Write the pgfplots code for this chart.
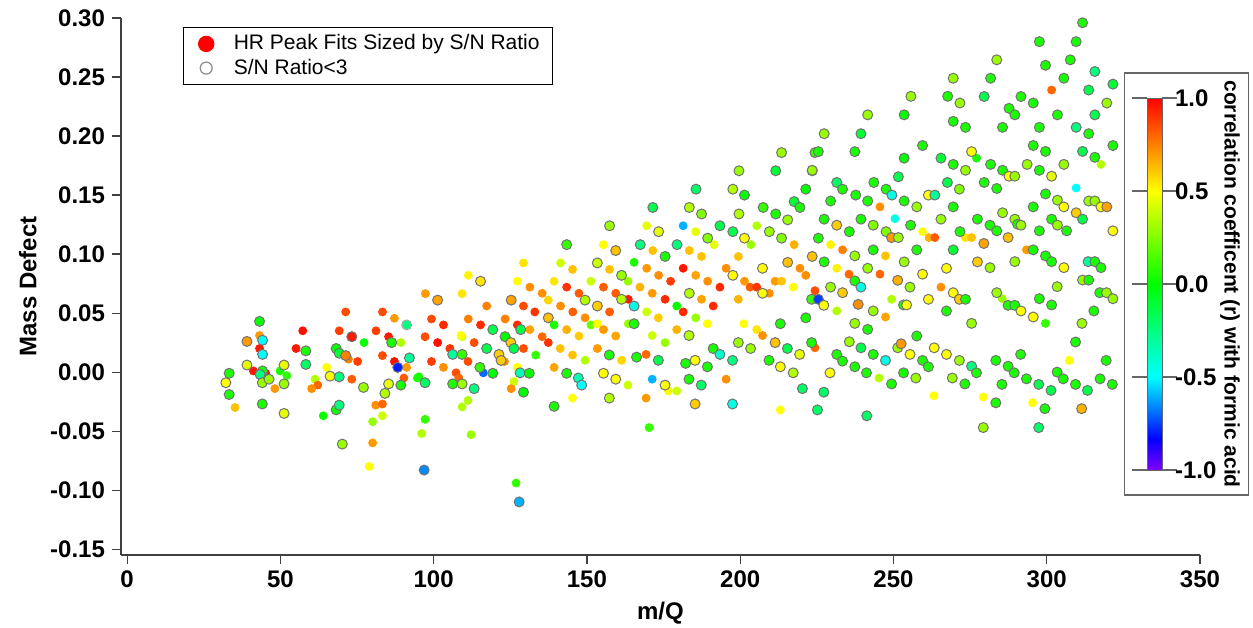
\documentclass[border=0pt]{standalone}
\usepackage{fontspec}
\setmainfont{Liberation Sans}
\usepackage{pgfplots}
\pgfplotsset{compat=1.18}
\pgfkeys{/pgf/number format/assume math mode=true}

\begin{document}
\begin{tikzpicture}
\begin{axis}[
  name=main,
  scale only axis, width=539.5pt, height=268.5pt,
  xmin=-2, xmax=350, ymin=-0.155, ymax=0.30,
  clip=false,
  axis x line*=bottom, axis y line*=left,
  axis line style={black!75, line width=0.6pt},
  xtick={0,50,100,150,200,250,300,350},
  ytick={-0.15,-0.10,-0.05,0,0.05,0.10,0.15,0.20,0.25,0.30},
  yticklabel style={/pgf/number format/.cd, fixed, fixed zerofill, precision=2},
  tick align=outside, major tick length=4.5pt,
  tick style={black!75, line width=0.6pt},
  tick label style={font=\fontsize{12}{14}\selectfont\bfseries},
  label style={font=\fontsize{12}{14}\selectfont\bfseries},
  xlabel={m/Q}, ylabel={Mass Defect},
  colormap={igor}{rgb255(0cm)=(128,0,255); rgb255(1cm)=(0,0,255); rgb255(3cm)=(0,255,255); rgb255(6cm)=(0,255,0); rgb255(9cm)=(255,255,0); rgb255(12cm)=(255,0,0)},
  point meta min=-1, point meta max=1,
  colorbar,
  colorbar style={
    at={(parent axis.south west)}, anchor=south west,
    xshift=504.5pt, yshift=42.5pt,
    scale only axis, width=7.5pt, height=186pt,
    ytick={-1,-0.5,0,0.5,1},
    yticklabel style={font=\fontsize{12}{14}\selectfont\bfseries, xshift=-4.5pt,
      /pgf/number format/.cd, fixed, fixed zerofill, precision=1},
    tick align=outside, major tick length=7.5pt,
    tick style={black!60, line width=0.6pt},
    axis line style={black!60, line width=0.5pt},
  },
  legend style={at={(0.0575,0.983)}, anchor=north west, draw=black,
    line width=0.6pt, font=\fontsize{10.5}{12}\selectfont,
    inner xsep=5pt, inner ysep=2pt, nodes={inner sep=1.5pt}},
  legend cell align=left,
  legend image code/.code={\path (0pt,0pt) (18pt,0pt); \draw[#1] plot coordinates {(6pt,0pt)};},
]

% peaks with S/N >= 3, marker radius (pt) follows S/N
\addplot[scatter, only marks, mark=*, forget plot,
  point meta=\thisrow{r},
  visualization depends on={\thisrow{s} \as \ms},
  scatter/@pre marker code/.append style={/tikz/mark size=\ms},
  scatter/use mapped color={draw=mapped color, fill=mapped color}]
table {
x y r s
71.3 0.051 0.85 2.3
83.3 0.051 0.85 2.3
87.2 0.0456 0.7 2.3
57.3 0.035 0.97 3.75
69.2 0.035 0.88 2.3
81.2 0.035 0.88 2.3
43.2 0.031 0.7 2.3
85.3 0.030 0.95 2.4
77.3 0.025 0.02 5.5
89.3 0.025 0.35 2.3
43.2 0.020 0.95 3.0
55.1 0.020 0.95 3.0
72.2 0.011 0.75 4.5
75.2 0.009 0.88 2.8
83.3 0.014 0.85 2.3
87.2 0.009 0.97 3.75
91.2 0.004 0.7 3.0
41.2 0.001 0.95 2.4
45.2 -0.001 0.97 3.0
49.9 0.001 0.05 3.75
52.1 -0.003 0.1 2.8
65.1 0.004 0.5 2.4
61.3 -0.006 0.35 2.3
62.2 -0.011 0.8 2.8
60.2 -0.014 0.72 2.3
73.3 -0.006 0.82 2.4
48.2 -0.014 0.7 2.3
90.3 -0.005 0.82 2.4
94.7 -0.005 0.05 2.4
35.2 -0.030 0.62 2.3
64.0 -0.037 0.02 2.3
81.1 -0.028 0.72 3.3
83.3 -0.027 0.8 2.4
83.3 -0.037 0.4 2.4
80.1 -0.042 0.3 2.4
80.1 -0.060 0.7 2.1
79.0 -0.080 0.5 2.1
96.1 -0.052 0.35 2.3
97.2 -0.040 0.1 2.3
112.2 -0.053 0.3 2.8
126.9 -0.094 0.1 2.8
91.2 0.040 -0.25 0.6
155.4 0.108 0.5 2.4
129.3 0.0925 0.55 2.4
141.4 0.0925 0.4 2.4
145.3 0.087 0.62 2.4
157.4 0.087 0.62 2.4
111.3 0.082 0.52 2.3
127.3 0.077 0.5 2.4
139.3 0.077 0.55 2.4
151.3 0.077 0.4 2.8
131.4 0.072 0.72 2.4
143.4 0.072 0.9 2.4
155.4 0.072 0.82 2.4
97.3 0.0665 0.7 2.3
109.3 0.0665 0.55 2.3
135.4 0.0668 0.72 2.8
147.4 0.0668 0.82 2.4
159.4 0.0668 0.82 2.4
137.4 0.061 0.58 2.4
117.3 0.056 0.75 2.4
129.3 0.056 0.85 2.4
141.4 0.056 0.72 2.4
99.3 0.045 0.85 3.2
103.2 0.040 0.92 2.5
111.3 0.045 0.75 2.4
123.3 0.045 0.75 2.4
133.0 0.051 0.9 2.4
145.4 0.051 0.82 2.4
157.4 0.051 0.82 2.4
149.4 0.046 0.72 2.4
139.3 0.040 0.05 2.6
151.3 0.040 0.2 2.4
153.4 0.041 0.5 2.4
115.3 0.040 0.92 2.4
127.3 0.040 0.92 2.4
131.4 0.036 0.68 2.4
143.4 0.036 0.65 2.4
155.4 0.036 0.7 2.4
147.4 0.0306 0.6 3.3
159.4 0.0306 0.68 2.4
97.2 0.030 0.85 2.4
101.3 0.025 0.97 3.75
109.3 0.030 0.4 2.4
108.9 0.031 0.5 2.3
113.2 0.025 0.85 2.4
129.3 0.020 0.85 2.8
135.4 0.030 0.8 2.4
137.4 0.025 0.9 2.4
141.3 0.020 0.62 2.4
145.3 0.0145 0.62 2.6
153.4 0.020 0.7 2.6
105.3 0.020 0.9 2.4
99.3 0.009 0.88 2.4
103.2 0.004 0.72 2.4
111.2 0.009 0.85 2.4
123.1 0.009 0.72 2.4
133.3 0.0144 0.1 2.4
116.2 -0.0006 -0.7 2.3
127.3 0.004 0.5 2.4
139.3 0.004 0.68 2.4
149.4 0.010 0.35 2.4
145.3 -0.022 0.5 2.4
95.2 -0.004 0.05 2.6
107.3 -0.0006 0.85 2.4
108.2 -0.005 0.8 3.3
126.2 -0.008 0.4 2.4
125.3 -0.014 0.72 2.4
111.2 -0.024 0.35 2.6
109.3 -0.0295 0.35 2.4
169.5 0.124 0.45 2.4
181.4 0.124 -0.6 2.4
185.5 0.119 0.45 2.4
205.4 0.124 0.35 2.4
191.5 0.108 0.45 2.4
203.5 0.108 0.3 2.4
171.5 0.103 0.62 2.4
183.4 0.103 0.62 2.4
187.4 0.098 0.62 2.4
199.4 0.098 0.62 2.4
217.6 0.108 0.65 2.4
219.5 0.088 0.72 2.4
221.4 0.082 0.72 2.4
165.4 0.093 0.05 2.4
169.5 0.088 0.7 2.4
181.4 0.088 0.95 3.3
195.4 0.088 0.72 2.8
163.4 0.077 0.3 3.2
173.4 0.082 0.72 2.4
177.3 0.077 0.88 3.3
185.5 0.082 0.68 2.4
189.4 0.077 0.72 2.4
201.4 0.077 0.7 2.4
211.4 0.077 0.7 2.4
213.5 0.077 0.62 2.4
167.3 0.072 0.65 2.4
171.3 0.0668 0.7 2.4
175.5 0.0617 0.92 2.4
187.4 0.0617 0.68 2.4
193.4 0.072 0.92 2.4
199.4 0.0617 0.65 2.4
203.2 0.072 0.82 2.4
205.4 0.072 0.9 2.6
209.5 0.0668 0.72 2.4
217.3 0.072 0.5 2.4
224.4 0.069 0.85 2.4
163.5 0.0617 0.95 3.0
179.3 0.056 0.0 2.5
181.4 0.051 0.92 3.0
191.2 0.056 0.92 2.4
169.5 0.051 0.4 2.4
173.3 0.046 0.6 2.4
185.5 0.046 0.3 2.4
189.3 0.041 0.5 2.4
163.5 0.041 0.3 4.5
171.3 0.031 0.4 2.4
179.3 0.036 0.65 2.6
175.5 0.025 0.3 2.4
201.2 0.041 0.5 2.4
205.4 0.036 0.55 2.4
207.3 0.031 0.72 2.4
224.4 0.0206 0.8 2.4
169.3 0.015 0.8 2.4
161.3 0.010 0.58 2.4
171.3 -0.006 -0.6 2.4
176.6 -0.016 0.5 2.6
179.3 -0.016 0.4 2.4
195.4 -0.006 0.72 2.4
163.4 -0.011 0.4 2.4
169.3 -0.022 0.7 2.4
213.1 -0.032 0.5 2.4
170.3 -0.047 0.1 3.2
245.6 0.140 0.72 2.4
250.5 0.130 -0.45 2.4
259.5 0.119 0.5 2.4
261.6 0.114 0.65 2.4
263.5 0.114 0.82 2.4
273.5 0.114 0.55 2.4
275.5 0.114 0.62 2.4
277.1 0.1813 0.05 2.4
229.5 0.108 0.52 2.4
233.4 0.1036 0.75 2.4
247.4 0.0985 0.62 2.4
231.5 0.088 0.52 2.4
235.5 0.083 0.8 2.4
245.6 0.083 0.8 2.4
265.5 0.072 0.72 2.4
249.4 0.0617 0.35 2.8
231.5 0.0518 0.35 2.4
247.4 0.0467 0.68 2.4
245.3 -0.005 0.35 2.4
263.2 -0.020 0.5 2.6
301.6 0.239 0.8 2.4
309.6 0.156 -0.5 2.4
317.7 0.176 0.35 2.5
285.5 0.0622 0.3 2.4
299.6 0.0413 0.1 2.4
293.4 0.1036 0.7 2.4
307.4 0.0099 0.5 2.4
279.3 -0.021 0.5 2.4
295.4 -0.026 0.5 2.4
};

% peaks with S/N < 3, outlined
\addplot[scatter, only marks, mark=*, mark size=2.5pt, forget plot,
  point meta=\thisrow{r},
  scatter/use mapped color={draw=black!55, fill=mapped color},
  mark options={line width=0.5pt}]
table {
x y r
43.2 0.043 0.02
44.2 0.027 -0.5
39.1 0.026 0.7
73.3 0.030 0.95
86.3 0.025 0.05
58.3 0.018 0.05
68.2 0.020 0.0
69.2 0.016 -0.1
71.3 0.014 0.75
88.3 0.004 -0.8
92.1 0.012 -0.3
44.2 0.015 -0.5
39.1 0.006 0.45
51.2 0.006 0.45
33.3 -0.001 0.05
44.2 0.001 0.05
43.4 -0.002 -0.25
58.3 0.0065 -0.2
66.2 -0.0034 0.5
69.2 -0.004 -0.25
32.2 -0.009 0.5
44.1 -0.009 0.3
46.3 -0.006 0.3
51.2 -0.010 0.3
33.3 -0.019 0.05
77.1 -0.013 0.3
85.3 -0.010 0.45
84.1 -0.018 0.35
89.3 -0.011 0.05
44.1 -0.027 0.05
51.2 -0.035 0.45
68.2 -0.032 0.02
69.2 -0.028 -0.25
70.2 -0.061 0.3
96.9 -0.083 -0.65
127.9 -0.110 -0.6
143.4 0.108 0.1
159.4 0.103 0.62
153.4 0.0925 0.4
115.3 0.077 0.55
101.3 0.061 0.68
125.3 0.061 0.68
149.4 0.061 0.35
153.4 0.056 0.6
137.4 0.046 0.62
128.4 0.036 -0.15
119.3 0.036 -0.15
123.3 0.030 0.0
125.2 0.025 0.6
126.2 0.020 -0.15
157.3 0.0145 0.05
117.3 0.020 -0.15
106.2 0.015 -0.3
109.3 0.015 0.1
121.3 0.015 0.6
122.0 0.0099 0.6
115.1 0.004 0.1
119.3 -0.001 0.0
128.2 -0.0006 -0.35
131.2 -0.001 0.0
143.4 -0.001 0.05
147.2 -0.005 -0.35
148.3 -0.011 -0.5
155.4 -0.001 0.5
159.4 -0.006 0.5
157.3 -0.022 0.35
139.3 -0.029 0.05
97.2 -0.009 -0.2
106.2 -0.010 0.05
109.3 -0.010 0.3
113.2 -0.014 -0.25
129.3 -0.017 0.0
213.5 0.186 0.3
224.4 0.186 0.1
199.6 0.1706 0.3
211.6 0.1706 -0.1
223.5 0.1706 0.3
185.6 0.155 -0.2
197.6 0.155 0.35
201.4 0.150 0.0
221.4 0.155 0.0
171.5 0.1395 -0.15
183.4 0.1395 0.35
187.4 0.134 0.25
199.6 0.134 0.35
207.5 0.1395 0.1
211.6 0.134 0.05
217.6 0.1445 -0.1
219.5 0.1395 0.05
215.5 0.129 0.3
157.4 0.124 0.3
173.4 0.119 0.45
193.4 0.124 -0.15
197.6 0.119 -0.15
209.5 0.119 0.3
213.5 0.1135 0.25
225.5 0.1135 0.05
189.4 0.1135 0.25
201.4 0.1135 0.5
167.4 0.108 -0.25
179.4 0.108 -0.25
175.5 0.098 0.05
215.5 0.093 0.62
223.5 0.098 0.62
207.3 0.088 0.5
161.3 0.082 0.3
197.6 0.082 0.5
183.4 0.0668 0.35
207.3 0.0668 0.5
223.3 0.0617 0.1
225.5 0.0617 -0.75
161.3 0.0617 0.35
165.4 0.056 -0.45
183.3 0.031 0.35
165.4 0.041 0.05
213.1 0.041 0.05
199.4 0.025 0.3
203.4 0.020 0.3
211.4 0.025 0.62
215.4 0.020 -0.15
219.4 0.015 0.45
223.3 0.025 0.05
191.2 0.020 0.05
193.4 0.015 -0.4
197.5 0.010 -0.25
209.4 0.010 0.05
213.1 0.0045 0.5
217.3 -0.0006 0.35
220.3 -0.014 -0.2
225.2 -0.032 -0.2
166.2 0.0127 0.05
173.3 0.010 -0.15
182.2 0.0074 0.05
185.3 0.010 0.5
189.3 0.0045 0.05
175.5 -0.011 0.5
183.3 -0.006 0.05
187.3 -0.011 -0.2
185.3 -0.027 0.6
197.5 -0.027 -0.45
241.3 -0.037 -0.2
255.7 0.2337 0.3
267.7 0.2337 0.05
271.7 0.228 0.3
241.6 0.218 0.3
253.5 0.218 0.0
269.5 0.2125 0.05
273.5 0.2074 0.05
227.4 0.202 0.3
239.4 0.202 -0.1
259.5 0.192 0.05
225.5 0.1868 0.05
237.4 0.1868 0.05
253.5 0.1813 0.0
265.5 0.1813 -0.1
269.5 0.176 0.05
273.5 0.171 0.3
275.5 0.1868 0.5
223.5 0.171 0.3
251.6 0.1655 -0.15
231.5 0.1607 -0.2
233.4 0.155 0.05
243.6 0.1607 0.05
247.6 0.155 0.05
267.6 0.1607 -0.15
271.5 0.155 0.25
229.5 0.145 0.05
237.7 0.150 0.05
241.6 0.145 0.05
249.5 0.150 -0.45
253.5 0.145 0.05
257.6 0.140 0.3
261.4 0.150 0.5
263.5 0.150 -0.3
269.5 0.140 0.05
227.4 0.1296 0.05
231.5 0.1245 0.6
239.4 0.1296 0.05
243.4 0.1245 0.25
235.6 0.119 0.05
247.6 0.119 0.25
255.6 0.1245 0.05
249.4 0.114 0.7
251.6 0.114 0.3
265.5 0.1296 0.3
271.7 0.119 0.05
277.4 0.1296 0.05
237.4 0.0985 0.3
243.4 0.1036 0.05
257.6 0.1036 0.05
253.5 0.0934 0.3
269.5 0.1036 -0.1
267.3 0.088 0.5
277.4 0.0934 0.6
227.4 0.0934 0.05
241.6 0.088 0.3
237.4 0.0773 0.05
239.4 0.072 -0.45
229.5 0.072 0.3
233.4 0.0673 0.6
251.4 0.0778 0.65
255.4 0.072 0.3
259.5 0.083 0.5
269.5 0.0673 0.5
271.5 0.0617 0.6
273.5 0.0617 0.05
261.4 0.0617 0.5
253.3 0.0569 0.05
254.3 0.0569 0.5
227.3 0.0566 0.5
238.5 0.0574 0.72
243.4 0.0518 0.3
221.4 0.046 0.05
267.3 0.0518 0.05
275.5 0.0413 0.3
237.4 0.0413 0.3
241.6 0.0362 0.05
257.6 0.0306 0.05
235.6 0.0257 0.3
231.5 0.015 0.05
233.4 0.0093 0.05
239.4 0.0206 -0.15
243.4 0.015 0.05
247.4 0.0099 -0.45
251.4 0.0206 0.3
252.5 0.024 0.7
255.4 0.015 0.5
259.5 0.0099 0.05
261.4 0.0045 0.05
263.3 0.0206 0.5
267.3 0.015 0.5
271.5 0.0099 0.3
275.5 0.005 -0.25
277.1 -0.0006 0.05
237.4 0.0045 0.05
229.3 -0.0006 0.5
241.2 -0.0006 0.05
249.4 -0.010 0.05
253.3 -0.0006 0.05
257.3 -0.005 0.3
269.2 -0.005 0.3
273.3 -0.010 0.05
227.3 -0.017 -0.2
269.5 0.249 0.3
311.7 0.296 0.05
297.6 0.280 0.05
309.6 0.280 0.05
283.7 0.2646 0.3
299.6 0.260 0.05
307.7 0.2646 0.05
315.7 0.2547 -0.25
281.7 0.249 0.05
305.6 0.249 0.05
321.6 0.244 -0.1
313.7 0.239 -0.15
279.6 0.2335 -0.15
291.6 0.2335 0.05
295.6 0.228 0.05
319.6 0.228 0.3
287.7 0.2235 0.05
289.6 0.218 0.05
303.5 0.218 0.05
315.7 0.218 -0.15
285.6 0.2074 0.05
297.6 0.2074 0.05
309.6 0.2074 -0.25
313.7 0.202 0.05
295.6 0.192 0.05
299.6 0.187 0.05
311.7 0.187 -0.15
315.7 0.182 0.05
321.6 0.192 0.05
281.7 0.176 0.05
285.6 0.171 0.05
287.7 0.166 0.5
289.6 0.166 0.3
293.6 0.176 0.3
297.6 0.171 0.05
301.6 0.166 0.45
305.6 0.176 0.3
279.6 0.1607 0.05
283.7 0.1556 0.05
299.6 0.151 0.05
303.5 0.1457 0.3
305.6 0.140 0.5
309.6 0.135 0.6
311.7 0.1296 -0.15
313.7 0.145 0.3
315.7 0.145 0.3
317.7 0.140 0.5
319.6 0.140 0.68
321.6 0.1197 0.5
295.6 0.140 0.05
285.6 0.135 0.3
289.6 0.1296 0.3
290.5 0.1253 0.05
291.6 0.1245 0.3
281.5 0.1245 0.05
283.7 0.1197 0.05
279.5 0.109 0.68
287.4 0.114 0.62
297.6 0.1197 0.05
301.6 0.1296 0.05
303.5 0.1245 0.3
306.5 0.1197 0.05
295.6 0.1036 0.05
299.6 0.0985 0.05
301.6 0.0936 0.05
305.6 0.0885 0.5
313.5 0.0936 -0.3
315.7 0.0936 0.05
317.7 0.0885 0.05
281.5 0.0885 0.3
289.6 0.0936 0.3
311.7 0.078 0.3
313.7 0.078 0.05
303.4 0.0724 0.3
317.3 0.0673 0.05
319.5 0.0673 0.3
321.6 0.0622 0.3
315.4 0.0518 0.05
283.7 0.0673 0.3
287.4 0.0566 0.05
289.6 0.0566 0.05
291.6 0.0518 0.5
295.6 0.0467 0.5
297.6 0.0622 0.05
301.6 0.0569 0.05
311.5 0.0413 0.3
309.4 0.0255 0.05
291.5 0.015 0.05
319.4 0.0099 0.05
283.4 0.0099 0.05
287.4 0.005 0.05
289.4 -0.0006 0.05
293.4 -0.0057 0.05
297.4 -0.0104 -0.15
301.4 -0.0155 -0.15
303.4 0.0 0.05
305.4 -0.0057 0.05
309.4 -0.0104 0.05
313.3 -0.0155 -0.15
317.4 -0.0057 0.05
321.4 -0.0104 0.05
285.4 -0.0104 0.05
283.4 -0.026 0.05
299.4 -0.031 0.05
311.4 -0.031 0.65
279.3 -0.047 0.3
297.4 -0.047 -0.2
};

% the one open marker with a tiny fit inside
\addplot[only marks, mark=o, mark size=2.5pt, draw=black!40, forget plot]
  coordinates {(91.2,0.040)};

\addlegendimage{only marks, mark=*, mark size=3.8pt, color=red}
\addlegendentry{HR Peak Fits Sized by S/N Ratio}
\addlegendimage{only marks, mark=o, mark size=3pt, color=black!45}
\addlegendentry{S/N Ratio<3}

% frame and title of the colour scale
\draw[black!60, line width=0.6pt] (axis cs:325.5,0.2534) rectangle (axis cs:365.7,-0.1042);
\node[rotate=-90, font=\fontsize{10.5}{12}\selectfont\bfseries] at (axis cs:359.8,0.0746)
  {correlation coefficent (r) with formic acid};

\coordinate (bbl) at (axis cs:-41.47,-0.216);
\coordinate (btr) at (axis cs:367.3,0.3153);
\end{axis}
\pgfresetboundingbox
\path (bbl) rectangle (btr);
\end{tikzpicture}
\end{document}
